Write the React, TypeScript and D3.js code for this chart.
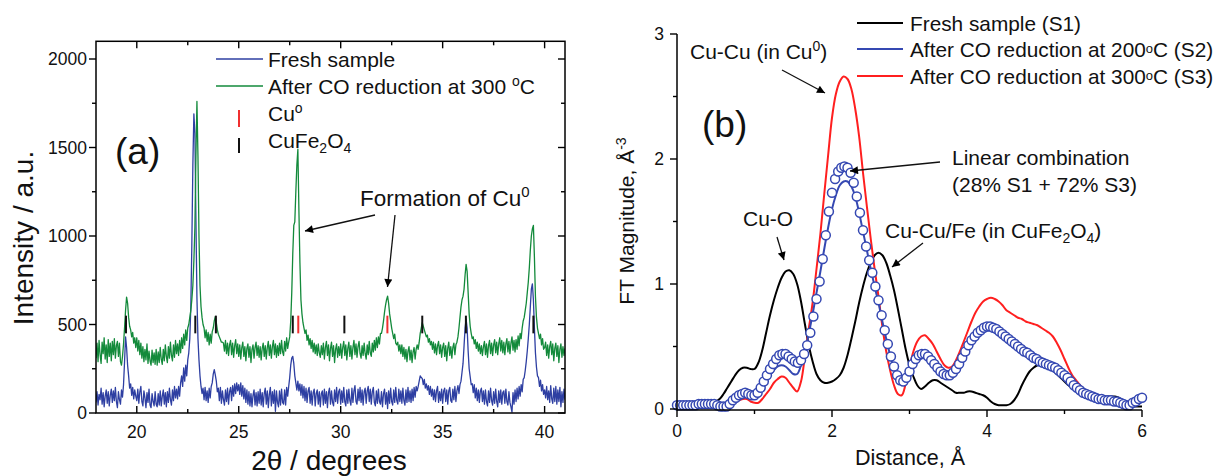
import React from 'react';
import * as d3 from 'd3';

// ---------- Panel (a): XRD ----------
const XRD_START = 18;
const XRD_STEP = 0.05;
const freshXRD = [
  60,120,45,105,75,140,50,115,35,95,130,55,120,40,100,135,60,125,70,145,
  65,30,120,75,50,130,90,160,290,430,370,270,210,140,165,100,145,80,130,95,
  70,135,55,120,150,65,40,125,85,30,115,60,135,45,30,110,65,40,120,50,
  35,110,45,125,40,95,130,50,115,35,120,60,140,75,45,130,70,150,85,135,
  80,150,95,170,210,150,255,180,270,210,300,340,420,600,950,1400,1690,1580,1100,650,
  420,300,210,150,110,140,75,145,70,125,60,140,85,150,170,220,245,215,180,120,
  140,70,145,55,125,75,45,130,65,140,50,120,145,70,155,95,165,110,170,125,
  160,105,170,95,155,80,140,60,130,50,120,40,110,35,100,130,45,115,40,120,
  55,135,45,115,35,110,140,50,125,30,105,145,40,120,55,130,10,125,60,35,
  125,45,135,60,50,130,45,145,95,150,200,270,310,320,280,210,170,130,180,125,
  165,100,160,85,150,70,140,60,125,145,55,125,45,115,135,40,110,130,50,120,
  35,110,125,45,135,55,120,30,115,140,50,125,60,40,130,65,145,55,120,135,
  50,125,60,145,65,40,130,55,135,70,45,140,60,125,155,65,50,135,70,145,
  60,130,45,120,140,55,125,150,65,135,50,120,145,60,40,125,55,135,65,50,
  120,35,110,135,50,115,25,125,55,140,65,45,130,60,145,70,50,135,65,125,
  55,140,70,45,130,60,145,65,125,60,135,70,145,90,150,125,150,180,210,200,
  195,160,190,140,165,130,155,105,150,95,135,75,130,65,125,150,60,120,70,135,
  55,125,140,65,130,50,125,145,70,60,135,75,150,65,125,155,110,160,180,230,
  280,380,480,530,480,350,250,205,160,165,115,160,85,140,70,130,60,125,140,65,
  125,50,130,65,40,125,60,140,70,45,120,55,135,65,35,125,60,130,50,115,
  125,55,135,65,45,120,60,35,5,115,50,130,65,140,80,150,95,160,120,190,
  200,240,290,350,420,500,600,700,730,640,480,340,260,210,200,150,185,125,160,105,
  130,85,150,75,125,60,155,80,55,140,65,150,50,130,65,145,35,120,60,135,
  75,
];
const reducedXRD = [
  310,395,290,410,330,280,400,335,425,305,385,285,415,320,395,295,405,330,420,310,
  380,405,320,395,290,270,320,390,480,580,655,620,540,490,470,430,455,395,425,370,
  425,350,410,330,395,310,375,290,360,300,390,280,350,295,270,355,285,340,275,360,
  270,345,285,370,305,275,360,295,385,320,285,375,310,400,325,295,385,315,410,335,
  390,325,410,340,425,365,445,385,470,410,480,500,540,580,640,720,860,1050,1450,1760,
  1450,1000,720,600,540,500,480,425,470,405,455,385,445,395,460,480,520,545,510,470,
  445,430,415,400,400,395,350,410,335,395,325,385,410,330,395,315,380,415,335,390,
  320,385,305,370,400,320,375,295,365,390,315,375,285,360,385,310,370,400,325,380,
  315,375,300,365,395,320,380,305,370,405,325,385,310,375,410,330,390,315,380,325,
  395,335,410,345,325,405,350,425,365,400,430,520,680,900,1060,1080,1250,1400,1490,1150,
  850,640,560,510,480,450,470,410,440,385,420,365,410,345,395,335,385,325,390,340,
  315,380,330,395,305,370,405,325,385,295,365,400,320,380,285,360,390,315,375,325,
  390,310,370,405,325,385,300,365,400,320,380,305,370,410,330,390,315,375,405,335,
  310,380,325,395,335,305,385,330,405,340,320,395,345,410,355,425,370,430,390,450,
  450,480,520,570,610,640,660,620,560,520,480,450,420,445,395,385,400,350,385,335,
  385,320,370,305,360,290,350,375,300,355,285,345,370,305,360,385,360,400,450,480,
  510,490,470,450,430,440,400,420,385,405,360,400,340,390,330,380,405,335,385,315,
  370,395,320,380,295,365,400,325,375,310,370,395,330,385,400,430,480,540,600,640,
  660,700,780,840,800,680,560,490,450,420,430,390,415,365,400,350,390,335,380,325,
  375,405,330,390,315,380,410,335,395,325,385,415,340,400,330,390,425,350,410,340,
  400,330,390,420,345,405,335,395,430,355,410,345,415,360,435,380,450,420,480,520,
  540,580,620,680,740,820,920,1000,1040,1060,880,660,540,480,450,420,445,385,420,360,
  370,400,325,385,310,375,405,330,390,295,365,395,320,380,285,360,390,315,375,325,
  365,
];
const cuFe2O4Refs = [19.47, 22.87, 23.88, 27.65, 30.18, 34.0, 36.14, 39.45];
const cuRefs = [27.92, 32.29];
const REF_LOW = 450;
const REF_HIGH = 550;
const xrdXTicks = [20, 25, 30, 35, 40];
const xrdXMinor = [22.5, 27.5, 32.5, 37.5];
const xrdYTicks = [0, 500, 1000, 1500, 2000];
const xrdYMinor = [250, 750, 1250, 1750];

// ---------- Panel (b): FT ----------
const FT_STEP = 0.05;
const ftS1 = [
  0.02,0.02,0.03,0.04,0.05,0.05,0.06,0.06,0.05,0.05,0.06,0.08,0.12,0.17,0.22,0.27,0.31,0.33,0.33,0.32,
  0.32,0.37,0.47,0.61,0.75,0.87,0.97,1.05,1.10,1.11,1.08,1.00,0.86,0.68,0.51,0.38,0.28,0.23,0.21,0.21,
  0.22,0.24,0.27,0.33,0.43,0.56,0.70,0.85,0.98,1.09,1.17,1.23,1.25,1.23,1.17,1.07,0.95,0.80,0.64,0.48,
  0.35,0.26,0.19,0.16,0.18,0.21,0.23,0.23,0.21,0.19,0.17,0.15,0.13,0.13,0.13,0.14,0.14,0.13,0.12,0.11,
  0.09,0.06,0.04,0.03,0.03,0.03,0.04,0.07,0.12,0.19,0.25,0.30,0.33,0.35,0.36,0.35,0.33,0.31,0.28,0.25,
  0.22,0.19,0.17,0.15,0.13,0.11,0.10,0.09,0.09,0.09,0.10,0.10,0.10,0.10,0.09,0.07,0.05,0.03,0.02,0.02,
  0.02,
];
const ftS2 = [
  0.02,0.02,0.02,0.02,0.03,0.03,0.03,0.03,0.03,0.03,0.02,0.01,0.01,0.02,0.05,0.08,0.10,0.11,0.11,0.10,
  0.10,0.12,0.17,0.22,0.27,0.31,0.34,0.35,0.34,0.31,0.28,0.28,0.35,0.46,0.60,0.76,0.93,1.10,1.28,1.45,
  1.60,1.71,1.79,1.82,1.82,1.78,1.70,1.57,1.42,1.27,1.12,0.98,0.85,0.70,0.56,0.43,0.32,0.25,0.21,0.23,
  0.29,0.35,0.39,0.41,0.41,0.39,0.36,0.32,0.28,0.25,0.24,0.25,0.29,0.34,0.40,0.46,0.51,0.56,0.59,0.62,
  0.63,0.63,0.62,0.60,0.58,0.56,0.53,0.51,0.48,0.46,0.44,0.42,0.40,0.39,0.37,0.36,0.34,0.32,0.29,0.26,
  0.23,0.20,0.17,0.14,0.12,0.10,0.09,0.08,0.08,0.07,0.07,0.06,0.06,0.05,0.04,0.02,0.01,0.01,0.03,0.05,
  0.07,
];
const ftS3 = [
  0.01,0.01,0.01,0.01,0.01,0.01,0.01,0.01,0.01,0.01,0.01,0.01,0.02,0.03,0.05,0.06,0.07,0.08,0.08,0.06,
  0.05,0.05,0.08,0.12,0.16,0.21,0.24,0.26,0.25,0.21,0.17,0.14,0.22,0.42,0.64,0.85,1.12,1.40,1.72,2.03,
  2.33,2.52,2.62,2.66,2.64,2.56,2.40,2.18,1.89,1.62,1.36,1.12,0.90,0.66,0.46,0.31,0.19,0.12,0.11,0.20,
  0.33,0.46,0.54,0.58,0.59,0.56,0.52,0.46,0.40,0.35,0.33,0.34,0.39,0.46,0.54,0.62,0.70,0.77,0.82,0.86,
  0.88,0.89,0.88,0.86,0.83,0.79,0.77,0.75,0.73,0.72,0.70,0.69,0.68,0.67,0.65,0.63,0.61,0.58,0.53,0.47,
  0.40,0.33,0.27,0.23,0.19,0.16,0.14,0.12,0.11,0.10,0.09,0.08,0.07,0.06,0.05,0.04,0.03,0.03,0.04,0.05,
  0.06,
];
const LC_STEP = 0.04;
const ftLinearComb = [
  0.03,0.03,0.03,0.03,0.03,0.03,0.03,0.04,0.04,0.04,0.04,0.04,0.04,0.03,0.02,0.02,0.02,0.04,0.07,0.09,0.11,0.12,0.13,0.12,0.11,
  0.11,0.13,0.17,0.22,0.27,0.32,0.36,0.40,0.43,0.44,0.44,0.42,0.40,0.38,0.37,0.39,0.44,0.51,0.61,0.74,0.88,1.02,1.20,1.39,1.58,
  1.73,1.84,1.90,1.93,1.94,1.93,1.89,1.81,1.70,1.57,1.43,1.30,1.19,1.09,0.98,0.87,0.75,0.63,0.52,0.42,0.34,0.27,0.23,0.22,0.25,
  0.30,0.36,0.40,0.43,0.44,0.44,0.42,0.39,0.36,0.33,0.30,0.28,0.27,0.27,0.29,0.32,0.36,0.41,0.46,0.51,0.55,0.58,0.61,0.63,0.65,
  0.66,0.66,0.65,0.64,0.62,0.60,0.58,0.56,0.54,0.52,0.50,0.48,0.46,0.45,0.43,0.41,0.40,0.38,0.37,0.36,0.35,0.34,0.33,0.31,0.29,
  0.27,0.25,0.22,0.19,0.17,0.15,0.13,0.12,0.11,0.10,0.09,0.08,0.08,0.07,0.07,0.07,0.06,0.06,0.05,0.04,0.03,0.03,0.05,0.06,0.08,
  0.09,
];
const ftXTicks = [0, 2, 4, 6];
const ftXMinor = [1, 3, 5];
const ftYTicks = [0, 1, 2, 3];
const ftYMinor = [0.5, 1.5, 2.5];

const FONT = "'Liberation Sans', Arial, Helvetica, sans-serif";
const C_BLUE_A = '#2e3fa2';
const C_GREEN = '#138a3b';
const C_RED = '#ff1f1f';
const C_BLUE_B = '#3548b2';
const C_REDTICK = '#f03030';

export default function App() {
  // panel a scales
  const xA = d3.scaleLinear().domain([18, 41]).range([96, 565]);
  const yA = d3.scaleLinear().domain([0, 2100]).range([413, 41.3]);
  const lineA = d3
    .line<number>()
    .x((_, i) => xA(XRD_START + i * XRD_STEP))
    .y((d) => yA(d));

  // panel b scales
  const xB = d3.scaleLinear().domain([0, 6]).range([677, 1142]);
  const yB = d3.scaleLinear().domain([0, 3]).range([409, 34]);
  const lineB = d3
    .line<number>()
    .x((_, i) => xB(i * FT_STEP))
    .y((d) => yB(d))
    .curve(d3.curveCatmullRom);

  const [aL, aR] = xA.range();
  const [aB, aT] = yA.range();
  const [bL, bR] = xB.range();
  const bB = yB(0);
  const bT = yB(3);

  return (
    <svg
      width={1219}
      height={476}
      style={{ position: 'absolute', left: 0, top: 0, background: '#fff' }}
      fontFamily={FONT}
    >
      <defs>
        <clipPath id="clipA">
          <rect x={aL} y={aT} width={aR - aL} height={aB - aT} />
        </clipPath>
        <marker
          id="arrow"
          viewBox="0 0 10 10"
          refX={10}
          refY={5}
          markerWidth={11}
          markerHeight={8}
          markerUnits="userSpaceOnUse"
          orient="auto"
        >
          <path d="M0,0 L10,5 L0,10 z" fill="#000" />
        </marker>
      </defs>
      <rect x={0} y={0} width={1219} height={476} fill="#fff" />

      {/* ================= Panel (a) ================= */}
      <g clipPath="url(#clipA)">
        <path d={lineA(freshXRD) || ''} fill="none" stroke={C_BLUE_A} strokeWidth={1.3} strokeLinejoin="round" />
        <path d={lineA(reducedXRD) || ''} fill="none" stroke={C_GREEN} strokeWidth={1.3} strokeLinejoin="round" />
        {cuFe2O4Refs.map((v) => (
          <line key={'k' + v} x1={xA(v)} x2={xA(v)} y1={yA(REF_LOW)} y2={yA(REF_HIGH)} stroke="#111" strokeWidth={2} />
        ))}
        {cuRefs.map((v) => (
          <line key={'r' + v} x1={xA(v)} x2={xA(v)} y1={yA(REF_LOW)} y2={yA(REF_HIGH)} stroke={C_REDTICK} strokeWidth={2} />
        ))}
      </g>
      <rect x={aL} y={aT} width={aR - aL} height={aB - aT} fill="none" stroke="#000" strokeWidth={1.5} />
      {xrdXTicks.map((v) => (
        <g key={'xa' + v}>
          <line x1={xA(v)} x2={xA(v)} y1={aB} y2={aB - 7} stroke="#000" strokeWidth={1.4} />
          <line x1={xA(v)} x2={xA(v)} y1={aT} y2={aT + 7} stroke="#000" strokeWidth={1.4} />
          <text x={xA(v)} y={438} textAnchor="middle" fontSize={17.5} fill="#111">{v}</text>
        </g>
      ))}
      {xrdXMinor.map((v) => (
        <g key={'xam' + v}>
          <line x1={xA(v)} x2={xA(v)} y1={aB} y2={aB - 4} stroke="#000" strokeWidth={1.4} />
          <line x1={xA(v)} x2={xA(v)} y1={aT} y2={aT + 4} stroke="#000" strokeWidth={1.4} />
        </g>
      ))}
      {xrdYTicks.map((v) => (
        <g key={'ya' + v}>
          <line x1={aL} x2={aL - 7} y1={yA(v)} y2={yA(v)} stroke="#000" strokeWidth={1.4} />
          <line x1={aR} x2={aR - 7} y1={yA(v)} y2={yA(v)} stroke="#000" strokeWidth={1.4} />
          <text x={87} y={yA(v) + 6} textAnchor="end" fontSize={17.5} fill="#111">{v}</text>
        </g>
      ))}
      {xrdYMinor.map((v) => (
        <g key={'yam' + v}>
          <line x1={aL} x2={aL - 4} y1={yA(v)} y2={yA(v)} stroke="#000" strokeWidth={1.4} />
          <line x1={aR} x2={aR - 4} y1={yA(v)} y2={yA(v)} stroke="#000" strokeWidth={1.4} />
        </g>
      ))}
      <text transform="translate(33,238) rotate(-90)" textAnchor="middle" fontSize={28} fill="#111">
        Intensity / a.u.
      </text>
      <text x={329} y={470} textAnchor="middle" fontSize={28} fill="#111">
        2θ / degrees
      </text>
      <text x={115} y={164} fontSize={37} fill="#111">(a)</text>

      {/* legend a */}
      <line x1={216} x2={263} y1={59} y2={59} stroke={C_BLUE_A} strokeWidth={1.5} />
      <text x={268} y={66.5} fontSize={21} fill="#111">Fresh sample</text>
      <line x1={216} x2={263} y1={86} y2={86} stroke={C_GREEN} strokeWidth={1.5} />
      <text x={268} y={93.5} fontSize={21} fill="#111">
        After CO reduction at 300 <tspan fontSize={14} dy={-8}>o</tspan><tspan dy={8}>C</tspan>
      </text>
      <line x1={239} x2={239} y1={110} y2={127} stroke={C_REDTICK} strokeWidth={2} />
      <text x={268} y={120.5} fontSize={21} fill="#111">
        Cu<tspan fontSize={14} dy={-8}>o</tspan>
      </text>
      <line x1={239} x2={239} y1={138} y2={153} stroke="#111" strokeWidth={2} />
      <text x={268} y={147.5} fontSize={21} fill="#111">
        CuFe<tspan fontSize={14} dy={5}>2</tspan><tspan dy={-5}>O</tspan><tspan fontSize={14} dy={5}>4</tspan>
      </text>

      {/* annotations a */}
      <text x={360} y={206} fontSize={22.5} fill="#111">
        Formation of Cu<tspan fontSize={15} dy={-9}>0</tspan>
      </text>
      <line x1={375} y1={215} x2={305} y2={231} stroke="#111" strokeWidth={1.3} markerEnd="url(#arrow)" />
      <line x1={395} y1={215} x2={387.5} y2={287} stroke="#111" strokeWidth={1.3} markerEnd="url(#arrow)" />

      {/* ================= Panel (b) ================= */}
      <path d={lineB(ftS1) || ''} fill="none" stroke="#000" strokeWidth={2} />
      <path d={lineB(ftS3) || ''} fill="none" stroke={C_RED} strokeWidth={2} />
      <path d={lineB(ftS2) || ''} fill="none" stroke={C_BLUE_B} strokeWidth={2} />
      {ftLinearComb.map((v, i) => (
        <circle
          key={'lc' + i}
          cx={xB(i * LC_STEP)}
          cy={yB(v)}
          r={4.5}
          fill="#fff"
          stroke={C_BLUE_B}
          strokeWidth={1.5}
        />
      ))}
      <line x1={bL} x2={bR} y1={bB + 1} y2={bB + 1} stroke="#000" strokeWidth={1.5} />
      <line x1={bL} x2={bL} y1={bT} y2={bB + 1.5} stroke="#000" strokeWidth={1.5} />
      {ftXTicks.map((v) => (
        <g key={'xb' + v}>
          <line x1={xB(v)} x2={xB(v)} y1={bB + 1} y2={bB + 8} stroke="#000" strokeWidth={1.4} />
          <text x={xB(v)} y={437} textAnchor="middle" fontSize={17.5} fill="#111">{v}</text>
        </g>
      ))}
      {ftXMinor.map((v) => (
        <line key={'xbm' + v} x1={xB(v)} x2={xB(v)} y1={bB + 1} y2={bB + 5} stroke="#000" strokeWidth={1.4} />
      ))}
      {ftYTicks.map((v) => (
        <g key={'yb' + v}>
          <line x1={bL} x2={bL - 7} y1={yB(v)} y2={yB(v)} stroke="#000" strokeWidth={1.4} />
          <text x={664} y={yB(v) + 6} textAnchor="end" fontSize={17.5} fill="#111">{v}</text>
        </g>
      ))}
      {ftYMinor.map((v) => (
        <line key={'ybm' + v} x1={bL} x2={bL - 4} y1={yB(v)} y2={yB(v)} stroke="#000" strokeWidth={1.4} />
      ))}
      <text transform="translate(634,221) rotate(-90)" textAnchor="middle" fontSize={21} fill="#111">
        FT Magnitude, Å<tspan fontSize={14} dy={-8}>-3</tspan>
      </text>
      <text x={910} y={465} textAnchor="middle" fontSize={21.5} fill="#111">
        Distance, Å
      </text>
      <text x={702} y={137} fontSize={37} fill="#111">(b)</text>

      {/* legend b */}
      <line x1={857} x2={903} y1={23} y2={23} stroke="#000" strokeWidth={2} />
      <text x={910} y={30.5} fontSize={20.8} fill="#111">Fresh sample (S1)</text>
      <line x1={857} x2={903} y1={49} y2={49} stroke={C_BLUE_B} strokeWidth={2} />
      <text x={910} y={56.5} fontSize={20.8} fill="#111">
        After CO reduction at 200<tspan fontSize={13} dy={-4}>o</tspan><tspan dy={4}>C (S2)</tspan>
      </text>
      <line x1={857} x2={903} y1={76} y2={76} stroke={C_RED} strokeWidth={2} />
      <text x={910} y={83.5} fontSize={20.8} fill="#111">
        After CO reduction at 300<tspan fontSize={13} dy={-4}>o</tspan><tspan dy={4}>C (S3)</tspan>
      </text>

      {/* annotations b */}
      <text x={690} y={59} fontSize={21} fill="#111">
        Cu-Cu (in Cu<tspan fontSize={14} dy={-8}>0</tspan><tspan dy={8}>)</tspan>
      </text>
      <line x1={782} y1={70} x2={825} y2={93} stroke="#111" strokeWidth={1.3} markerEnd="url(#arrow)" />
      <text x={952} y={165} fontSize={21} fill="#111">Linear combination</text>
      <text x={952} y={192} fontSize={21} fill="#111">(28% S1 + 72% S3)</text>
      <line x1={940} y1={162} x2={850} y2={171} stroke="#111" strokeWidth={1.3} markerEnd="url(#arrow)" />
      <text x={743} y={226} fontSize={21} fill="#111">Cu-O</text>
      <line x1={777} y1={237} x2={784} y2={260} stroke="#111" strokeWidth={1.3} markerEnd="url(#arrow)" />
      <text x={885} y={238} fontSize={21} fill="#111">
        Cu-Cu/Fe (in CuFe<tspan fontSize={14} dy={5}>2</tspan><tspan dy={-5}>O</tspan>
        <tspan fontSize={14} dy={5}>4</tspan><tspan dy={-5}>)</tspan>
      </text>
      <line x1={923} y1={243} x2={892} y2={267} stroke="#111" strokeWidth={1.3} markerEnd="url(#arrow)" />
    </svg>
  );
}
